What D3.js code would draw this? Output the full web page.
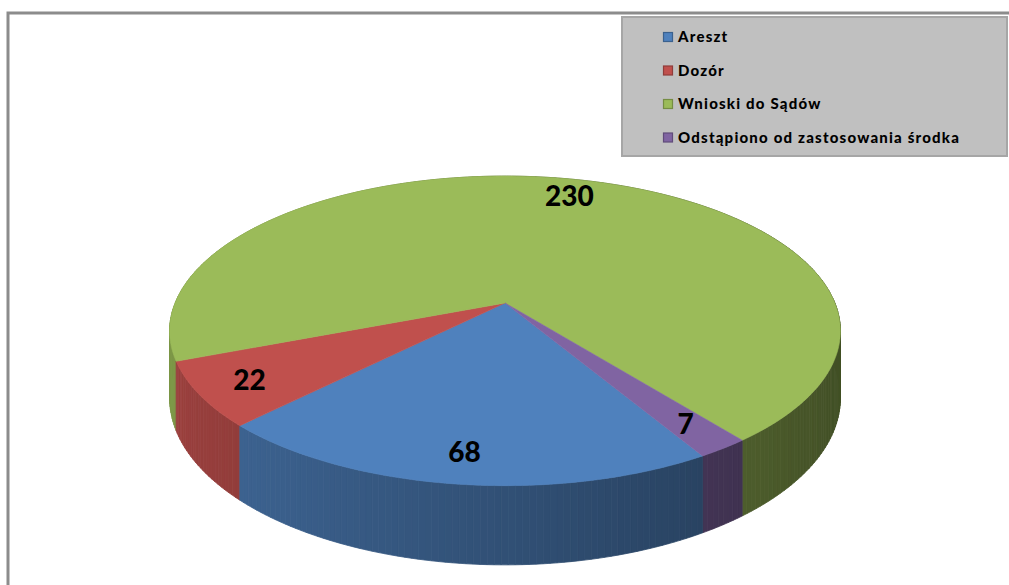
<html>
<head>
<meta charset="utf-8">
<style>
  body { margin: 0; background: #fff; }
  text { font-family: Lato, "Open Sans", sans-serif; }
</style>
</head>
<body>
<svg id="chart" width="1009" height="585"></svg>
<script src="https://cdn.jsdelivr.net/npm/d3@7"></script>
<script>
  // data
  const categories = ["Areszt", "Dozór", "Wnioski do Sądów", "Odstąpiono od zastosowania środka"]
  const values = [68, 22, 230, 7]
  const colors = ["#4f81bd", "#c0504d", "#9bbb59", "#8064a2"]

  let svg = d3.select("#chart")

  // outer frame (only top + left edges are inside the picture)
  svg.append("path")
    .attr("d", "M8,585 L8,13 L1009,13")
    .attr("fill", "none")
    .attr("stroke", "#8c8c8c")
    .attr("stroke-width", 3)

  // perspective settings for the 3d pie
  let cx = 505, cy = 303
  let tilt = 27 * Math.PI / 180
  let sinP = Math.sin(tilt), cosP = Math.cos(tilt)
  let D = 4.95, f = 1633, h = 0.221

  // angle a (clockwise from back), r as fraction of radius, z: 0 top, 1 bottom
  function proj(a, r, z) {
    let X = Math.sin(a) * r, Y = Math.cos(a) * r
    let zc = Y * cosP + D
    return [cx + f * X / zc, cy - f * (Y * sinP - z * h * cosP) / zc]
  }

  let start = 149.6 * Math.PI / 180
  let pie = d3.pie().sort(null).value(d => d)
    .startAngle(start).endAngle(start + 2 * Math.PI)
  let arcs = pie(values)

  let line = d3.line()
  let step = Math.PI / 180

  // outer walls, drawn back to front
  let walls = []
  arcs.forEach((d, i) => {
    let n = Math.max(1, Math.ceil((d.endAngle - d.startAngle) / step))
    let da = (d.endAngle - d.startAngle) / n
    for (let j = 0; j < n; j++) {
      let t0 = d.startAngle + j * da, t1 = t0 + da, tm = (t0 + t1) / 2
      let k = 0.62 - 0.2 * Math.sin(tm)
      let c = d3.rgb(colors[i])
      let col = d3.rgb(c.r * k, c.g * k, c.b * k)
      walls.push({
        depth: Math.cos(tm),
        pts: [proj(t0, 1, 0), proj(t1, 1, 0), proj(t1, 1, 1), proj(t0, 1, 1)],
        color: col.toString()
      })
    }
  })
  walls.sort((a, b) => b.depth - a.depth)

  svg.append("g").selectAll("path")
    .data(walls)
    .enter()
    .append("path")
    .attr("d", w => line(w.pts) + "Z")
    .attr("fill", w => w.color)
    .attr("stroke", w => w.color)
    .attr("stroke-width", 0.8)

  // top faces
  svg.append("g").selectAll("path")
    .data(arcs)
    .enter()
    .append("path")
    .attr("d", d => {
      let pts = [[cx, cy]]
      let n = Math.max(2, Math.ceil((d.endAngle - d.startAngle) / step))
      for (let j = 0; j <= n; j++) {
        pts.push(proj(d.startAngle + (d.endAngle - d.startAngle) * j / n, 1, 0))
      }
      return line(pts) + "Z"
    })
    .attr("fill", (d, i) => colors[i])
    .attr("stroke", (d, i) => colors[i])
    .attr("stroke-width", 0.6)

  // value labels
  svg.append("g").selectAll("text")
    .data(arcs)
    .enter()
    .append("text")
    .attr("transform", d => {
      let p = proj((d.startAngle + d.endAngle) / 2, 0.85, 0)
      return "translate(" + p[0] + "," + p[1] + ")"
    })
    .attr("text-anchor", "middle")
    .attr("dy", "0.36em")
    .style("font-size", "28px")
    .style("font-weight", "900")
    .text(d => d.data)

  // legend
  let legend = svg.append("g")
  legend.append("rect")
    .attr("x", 622).attr("y", 17)
    .attr("width", 385).attr("height", 139)
    .attr("fill", "#c0c0c0")
    .attr("stroke", "#a6a6a6")
    .attr("stroke-width", 2)

  let legendG = legend.selectAll(".legend")
    .data(categories)
    .enter()
    .append("g")
    .attr("class", "legend")
    .attr("transform", (d, i) => "translate(663," + (32 + i * 33.5) + ")")

  legendG.append("rect")
    .attr("width", 9).attr("height", 9)
    .attr("x", 0.5).attr("y", 0.5)
    .attr("fill", (d, i) => colors[i])
    .attr("stroke", (d, i) => d3.rgb(colors[i]).darker(0.8))
    .attr("stroke-width", 1.2)

  legendG.append("text")
    .attr("x", 15)
    .attr("y", 10)
    .style("font-size", "15px")
    .style("font-weight", "900")
    .style("letter-spacing", "1.2px")
    .text(d => d)
</script>
</body>
</html>
